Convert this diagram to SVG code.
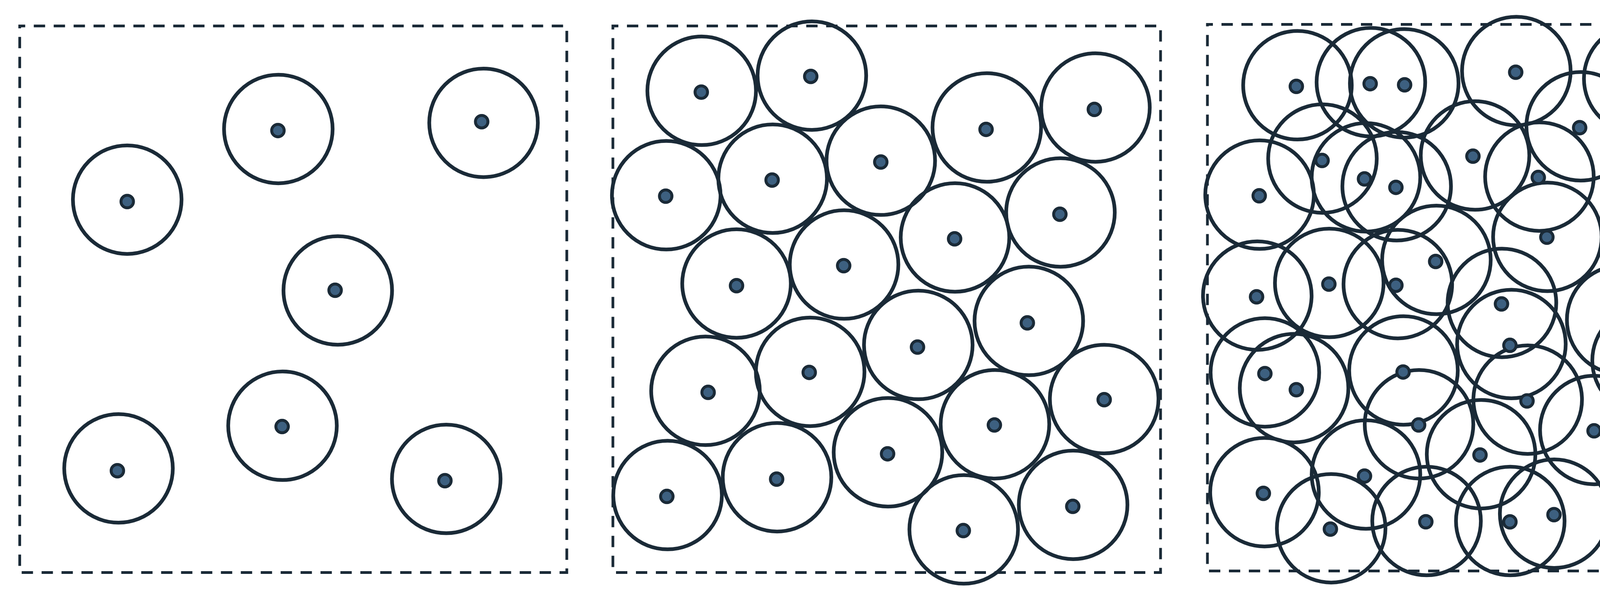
<svg xmlns="http://www.w3.org/2000/svg" width="4540" height="1542" viewBox="0 0 4540 1542">
<style>
.frame{fill:none;stroke:#1a2a37;stroke-width:7;stroke-dasharray:29 22;stroke-dashoffset:15}
.rng{fill:none;stroke:#1a2a37;stroke-width:9.5}
.pt{fill:#3d6080;stroke:#1a2a37;stroke-width:7.5}
</style>
<rect width="4540" height="1542" fill="#ffffff"/>
<g id="panel1">
<rect class="frame" x="50.5" y="66.5" width="1400.5" height="1400"/>
<g id="p1-ranges">
<circle class="rng" cx="325.7" cy="511.4" r="139"/>
<circle class="rng" cx="712.5" cy="330.4" r="139"/>
<circle class="rng" cx="1237.9" cy="314.7" r="139"/>
<circle class="rng" cx="864.7" cy="744" r="139"/>
<circle class="rng" cx="723.2" cy="1090.6" r="139"/>
<circle class="rng" cx="303.4" cy="1199.8" r="139"/>
<circle class="rng" cx="1142.4" cy="1226.8" r="139"/>
</g>
<g id="p1-points">
<circle class="pt" cx="325.7" cy="516.3" r="16"/>
<circle class="pt" cx="711.5" cy="334.4" r="16"/>
<circle class="pt" cx="1233.1" cy="311.7" r="16"/>
<circle class="pt" cx="857.9" cy="743.5" r="16"/>
<circle class="pt" cx="722.2" cy="1092.6" r="16"/>
<circle class="pt" cx="300.5" cy="1205.7" r="16"/>
<circle class="pt" cx="1139" cy="1231.2" r="16"/>
</g>
</g>
<g id="panel2">
<rect class="frame" x="1569" y="66.5" width="1402" height="1400"/>
<g id="p2-ranges">
<circle class="rng" cx="1796.3" cy="232.6" r="139"/>
<circle class="rng" cx="2078.4" cy="193.7" r="139"/>
<circle class="rng" cx="1705.6" cy="500.1" r="139"/>
<circle class="rng" cx="1978" cy="457.8" r="139"/>
<circle class="rng" cx="2254.8" cy="411.6" r="139"/>
<circle class="rng" cx="2526.2" cy="326.5" r="139"/>
<circle class="rng" cx="2804.4" cy="275.4" r="139"/>
<circle class="rng" cx="2444.8" cy="608.3" r="139"/>
<circle class="rng" cx="2714.8" cy="544.3" r="139"/>
<circle class="rng" cx="1885.5" cy="726.3" r="139"/>
<circle class="rng" cx="2160.8" cy="677.6" r="139"/>
<circle class="rng" cx="2350.8" cy="883.6" r="139"/>
<circle class="rng" cx="2633.8" cy="822.1" r="139"/>
<circle class="rng" cx="1806" cy="1001.1" r="139"/>
<circle class="rng" cx="2074" cy="952.4" r="139"/>
<circle class="rng" cx="2547.1" cy="1086.7" r="139"/>
<circle class="rng" cx="2826.7" cy="1022.3" r="139"/>
<circle class="rng" cx="1709" cy="1268.1" r="139"/>
<circle class="rng" cx="1989.2" cy="1222.4" r="139"/>
<circle class="rng" cx="2273.2" cy="1158.5" r="139"/>
<circle class="rng" cx="2467.1" cy="1356.1" r="139"/>
<circle class="rng" cx="2747.2" cy="1293.2" r="139"/>
</g>
<g id="p2-points">
<circle class="pt" cx="1795.3" cy="236" r="16"/>
<circle class="pt" cx="2075.5" cy="195.7" r="16"/>
<circle class="pt" cx="1704.2" cy="502.5" r="16"/>
<circle class="pt" cx="1976.6" cy="461.2" r="16"/>
<circle class="pt" cx="2254.8" cy="415" r="16"/>
<circle class="pt" cx="2524.3" cy="331.4" r="16"/>
<circle class="pt" cx="2801.5" cy="280.3" r="16"/>
<circle class="pt" cx="2443.8" cy="611.7" r="16"/>
<circle class="pt" cx="2713.3" cy="548.8" r="16"/>
<circle class="pt" cx="1885.5" cy="731.7" r="16"/>
<circle class="pt" cx="2159.8" cy="680.5" r="16"/>
<circle class="pt" cx="2348.8" cy="889" r="16"/>
<circle class="pt" cx="2630" cy="827.1" r="16"/>
<circle class="pt" cx="1812.8" cy="1005.1" r="16"/>
<circle class="pt" cx="2071.6" cy="953.9" r="16"/>
<circle class="pt" cx="2545.6" cy="1088.6" r="16"/>
<circle class="pt" cx="2826.7" cy="1023.7" r="16"/>
<circle class="pt" cx="1707.1" cy="1271.6" r="16"/>
<circle class="pt" cx="1988.2" cy="1227.3" r="16"/>
<circle class="pt" cx="2272.2" cy="1162.4" r="16"/>
<circle class="pt" cx="2466.1" cy="1359.1" r="16"/>
<circle class="pt" cx="2746.3" cy="1297.1" r="16"/>
</g>
</g>
<g id="panel3">
<rect class="frame" x="3091" y="62.5" width="1400" height="1400"/>
<g id="p3-ranges">
<circle class="rng" cx="3321.5" cy="218.3" r="139"/>
<circle class="rng" cx="3509.5" cy="210.5" r="139"/>
<circle class="rng" cx="3594.8" cy="213.4" r="139"/>
<circle class="rng" cx="3881.8" cy="181.9" r="139"/>
<circle class="rng" cx="4193.9" cy="201.6" r="139"/>
<circle class="rng" cx="4321.9" cy="272.4" r="139"/>
<circle class="rng" cx="4046.6" cy="323.5" r="139"/>
<circle class="rng" cx="3385.5" cy="406.2" r="139"/>
<circle class="rng" cx="3224.5" cy="498.6" r="139"/>
<circle class="rng" cx="3496.9" cy="454.3" r="139"/>
<circle class="rng" cx="3575.5" cy="477" r="139"/>
<circle class="rng" cx="3776.1" cy="398.3" r="139"/>
<circle class="rng" cx="3940.9" cy="452.4" r="139"/>
<circle class="rng" cx="4364.5" cy="438.6" r="139"/>
<circle class="rng" cx="4239.5" cy="547.8" r="139"/>
<circle class="rng" cx="3961.3" cy="606.8" r="139"/>
<circle class="rng" cx="3677.2" cy="665.8" r="139"/>
<circle class="rng" cx="3218.7" cy="757.2" r="139"/>
<circle class="rng" cx="3402.9" cy="724.8" r="139"/>
<circle class="rng" cx="3578.4" cy="727.7" r="139"/>
<circle class="rng" cx="3845" cy="775.9" r="139"/>
<circle class="rng" cx="4356.8" cy="719.9" r="139"/>
<circle class="rng" cx="4150.3" cy="819.2" r="139"/>
<circle class="rng" cx="3869.2" cy="881.2" r="139"/>
<circle class="rng" cx="3238.1" cy="953.9" r="139"/>
<circle class="rng" cx="3312.8" cy="994.2" r="139"/>
<circle class="rng" cx="3592.9" cy="949" r="139"/>
<circle class="rng" cx="4215.3" cy="923.4" r="139"/>
<circle class="rng" cx="3910.9" cy="1023.7" r="139"/>
<circle class="rng" cx="4350" cy="1041.4" r="139"/>
<circle class="rng" cx="3632.7" cy="1086.7" r="139"/>
<circle class="rng" cx="4081.5" cy="1101.4" r="139"/>
<circle class="rng" cx="3791.6" cy="1163.4" r="139"/>
<circle class="rng" cx="3496.9" cy="1215.5" r="139"/>
<circle class="rng" cx="3237.1" cy="1260.7" r="139"/>
<circle class="rng" cx="3407.8" cy="1353.2" r="139"/>
<circle class="rng" cx="3652" cy="1334.5" r="139"/>
<circle class="rng" cx="3866.3" cy="1334.5" r="139"/>
<circle class="rng" cx="3978.7" cy="1315.8" r="139"/>
<circle class="rng" cx="4340.3" cy="1247" r="139"/>
<circle class="rng" cx="4260.8" cy="1312.9" r="139"/>
</g>
<g id="p3-points">
<circle class="pt" cx="3318.6" cy="221.3" r="16"/>
<circle class="pt" cx="3507.6" cy="214.4" r="16"/>
<circle class="pt" cx="3595.8" cy="217.3" r="16"/>
<circle class="pt" cx="3880.2" cy="185" r="16"/>
<circle class="pt" cx="4190.2" cy="206.7" r="16"/>
<circle class="pt" cx="4321" cy="279.8" r="16"/>
<circle class="pt" cx="4043.9" cy="327" r="16"/>
<circle class="pt" cx="3384.5" cy="411.1" r="16"/>
<circle class="pt" cx="3223.6" cy="501.5" r="16"/>
<circle class="pt" cx="3493.1" cy="458.3" r="16"/>
<circle class="pt" cx="3573.5" cy="479.9" r="16"/>
<circle class="pt" cx="3770.7" cy="400.1" r="16"/>
<circle class="pt" cx="3938" cy="454.6" r="16"/>
<circle class="pt" cx="4364.4" cy="443.6" r="16"/>
<circle class="pt" cx="4237.5" cy="549.4" r="16"/>
<circle class="pt" cx="3960" cy="607.5" r="16"/>
<circle class="pt" cx="3675.3" cy="669.7" r="16"/>
<circle class="pt" cx="3216.8" cy="760.2" r="16"/>
<circle class="pt" cx="3401.9" cy="727.7" r="16"/>
<circle class="pt" cx="3573.5" cy="730.7" r="16"/>
<circle class="pt" cx="3843.8" cy="778.5" r="16"/>
<circle class="pt" cx="4353.9" cy="724.5" r="16"/>
<circle class="pt" cx="4149.8" cy="822.8" r="16"/>
<circle class="pt" cx="3865.4" cy="884.6" r="16"/>
<circle class="pt" cx="3238.1" cy="956.9" r="16"/>
<circle class="pt" cx="3318.6" cy="998.2" r="16"/>
<circle class="pt" cx="3591.9" cy="952.9" r="16"/>
<circle class="pt" cx="4211.6" cy="928.5" r="16"/>
<circle class="pt" cx="3909.1" cy="1027" r="16"/>
<circle class="pt" cx="4350.3" cy="1045.2" r="16"/>
<circle class="pt" cx="3631.7" cy="1088.6" r="16"/>
<circle class="pt" cx="4080.8" cy="1103.6" r="16"/>
<circle class="pt" cx="3788.8" cy="1165.4" r="16"/>
<circle class="pt" cx="3493.1" cy="1219.4" r="16"/>
<circle class="pt" cx="3234.2" cy="1263.7" r="16"/>
<circle class="pt" cx="3405.8" cy="1355.2" r="16"/>
<circle class="pt" cx="3650.1" cy="1336.5" r="16"/>
<circle class="pt" cx="3865.4" cy="1336.8" r="16"/>
<circle class="pt" cx="3978.2" cy="1318.3" r="16"/>
<circle class="pt" cx="4339" cy="1249.3" r="16"/>
<circle class="pt" cx="4259.2" cy="1314.7" r="16"/>
</g>
</g>
</svg>
